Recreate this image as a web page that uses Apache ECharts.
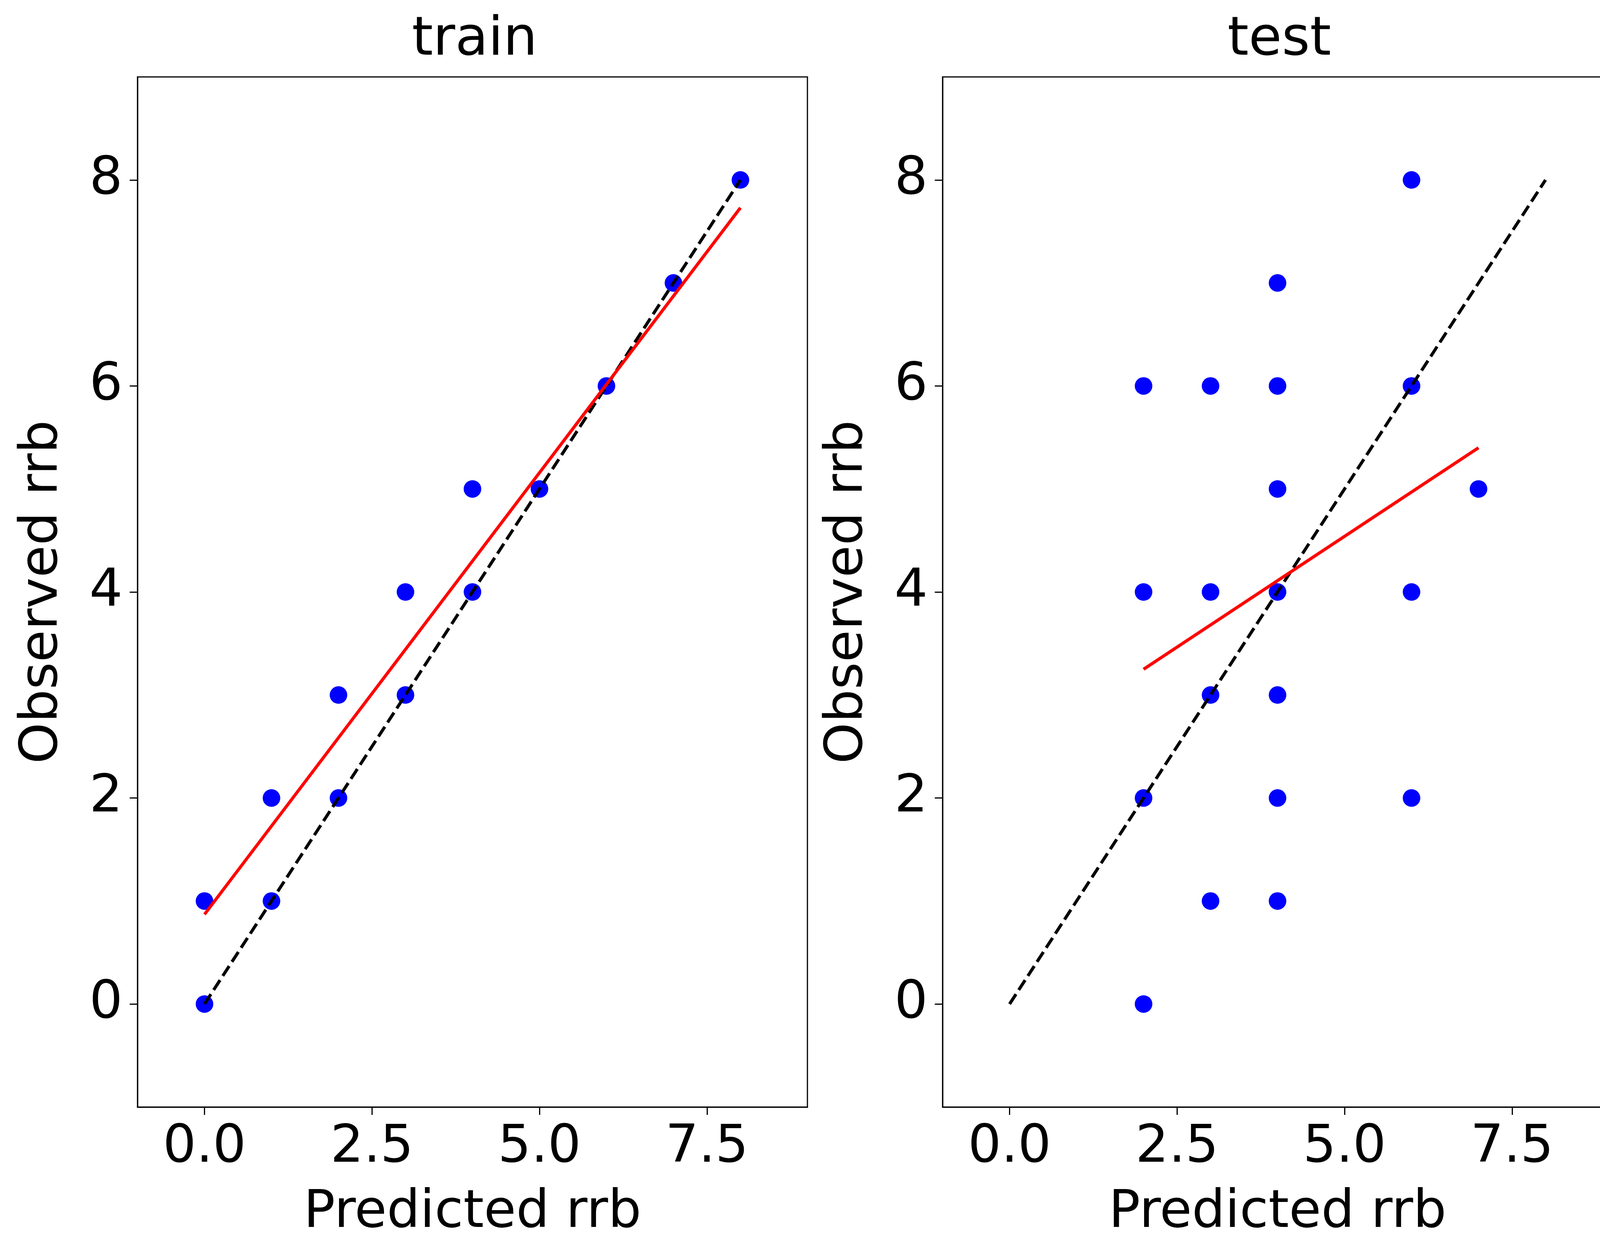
<!DOCTYPE html>
<html>
<head>
<meta charset="utf-8">
<script src="https://cdn.jsdelivr.net/npm/echarts@6/dist/echarts.min.js"></script>
<style>html,body{margin:0;background:#fff}#main{width:4160px;height:3219px}</style>
</head>
<body>
<div id="main"></div>
<script>
// train panel
var trainPoints = [[0,0],[0,1],[1,1],[1,2],[2,2],[2,3],[3,3],[3,4],[4,4],[4,5],[5,5],[6,6],[7,7],[8,8]];
var trainFit = [[0,0.87],[8,7.73]];
// test panel
var testPoints = [[2,0],[2,2],[2,4],[2,6],[3,1],[3,3],[3,4],[3,6],[4,1],[4,2],[4,3],[4,4],[4,5],[4,6],[4,7],[6,2],[6,4],[6,6],[6,8],[7,5]];
var testFit = [[2,3.25],[7,5.4]];
var identity = [[0,0],[8,8]];
var titles = ['train', 'test'];
var xTicks = [0, 2.5, 5, 7.5];
var yTicks = [0, 2, 4, 6, 8];

var chart = echarts.init(document.getElementById('main'));
var font = 'DejaVu Sans';
var fs = 134;

function xAxis(i) {
  return {
    type: 'value', gridIndex: i, min: -1, max: 9,
    name: 'Predicted rrb', nameLocation: 'middle', nameGap: 205,
    nameTextStyle: {fontFamily: font, fontSize: fs, color: '#000'},
    axisLine: {onZero: false, lineStyle: {color: '#000', width: 3}},
    axisTick: {customValues: xTicks, length: 20, lineStyle: {color: '#000', width: 3}},
    axisLabel: {customValues: xTicks, fontFamily: font, fontSize: fs, color: '#000', margin: 38,
      formatter: function (v) { return v.toFixed(1); }},
    splitLine: {show: false}
  };
}
function yAxis(i) {
  return {
    type: 'value', gridIndex: i, min: -1, max: 9,
    name: 'Observed rrb', nameLocation: 'middle', nameGap: 175,
    nameTextStyle: {fontFamily: font, fontSize: fs, color: '#000'},
    axisLine: {onZero: false, lineStyle: {color: '#000', width: 3}},
    axisTick: {customValues: yTicks, length: 20, lineStyle: {color: '#000', width: 3}},
    axisLabel: {customValues: yTicks, fontFamily: font, fontSize: fs, color: '#000', margin: 38},
    splitLine: {show: false}
  };
}
function panel(i, pts, fit) {
  return [
    {type: 'scatter', xAxisIndex: i, yAxisIndex: i, data: pts, symbolSize: 45,
      itemStyle: {color: '#0000ff', opacity: 1}, z: 3},
    {type: 'line', xAxisIndex: i, yAxisIndex: i, data: identity, symbol: 'none',
      lineStyle: {color: '#000', width: 8, type: [30, 13]}, z: 4},
    {type: 'line', xAxisIndex: i, yAxisIndex: i, data: fit, symbol: 'none',
      lineStyle: {color: '#ff0000', width: 8}, z: 5}
  ];
}

var option = {
  backgroundColor: '#fff',
  animation: false,
  title: titles.map(function (t, i) {
    return {text: t, left: (i === 0 ? 1210 : 3270), top: 30, textAlign: 'center',
      textStyle: {fontFamily: font, fontSize: 138, fontWeight: 'normal', color: '#000'}};
  }),
  grid: [
    {left: 352, top: 197, width: 1715, height: 2638, show: true, borderColor: '#000', borderWidth: 3},
    {left: 2413, top: 197, width: 1715, height: 2638, show: true, borderColor: '#000', borderWidth: 3}
  ],
  xAxis: [xAxis(0), xAxis(1)],
  yAxis: [yAxis(0), yAxis(1)],
  series: panel(0, trainPoints, trainFit).concat(panel(1, testPoints, testFit))
};
chart.setOption(option);
</script>
</body>
</html>
